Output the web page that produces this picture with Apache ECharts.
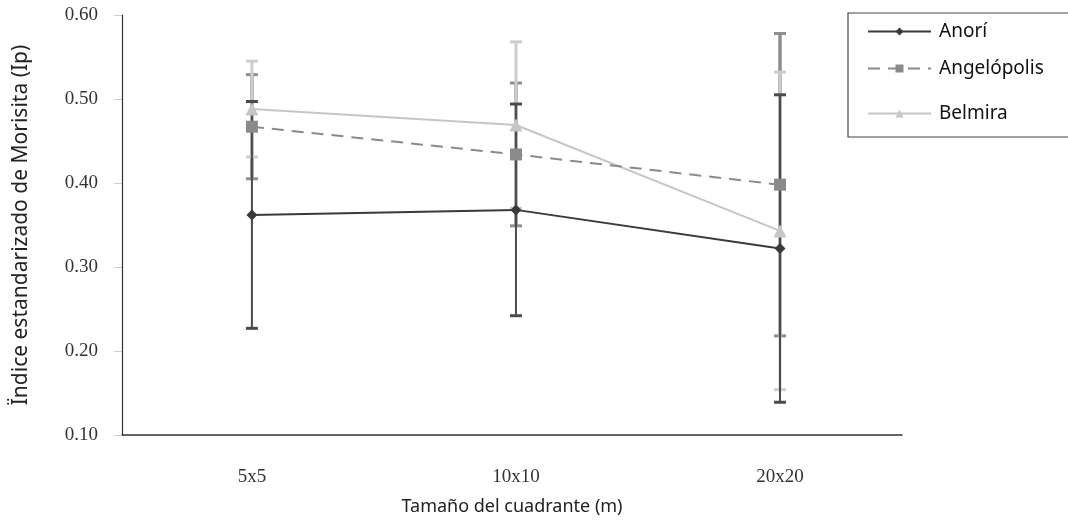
<!DOCTYPE html>
<html>
<head>
<meta charset="utf-8">
<script src="https://cdn.jsdelivr.net/npm/echarts@6/dist/echarts.min.js"></script>
<style>
  html, body { margin: 0; padding: 0; background: #fff; }
  #main { width: 1068px; height: 525px; }
</style>
</head>
<body>
<div id="main"></div>
<script>
var sizes = ['5x5', '10x10', '20x20'];
var yTicks = [0.10, 0.20, 0.30, 0.40, 0.50, 0.60];

// medias y error (barras) por localidad
var anoriMean = [0.362, 0.368, 0.322];
var anoriErr = [0.135, 0.126, 0.183];
var angelMean = [0.467, 0.434, 0.398];
var angelErr = [0.062, 0.085, 0.180];
var belmiraMean = [0.488, 0.469, 0.343];
var belmiraErr = [0.057, 0.099, 0.189];

var serif = '"Liberation Serif", "Times New Roman", serif';
var sans = '"Noto Sans", "DejaVu Sans", sans-serif';

function pts(mean) {
    return mean.map(function (v, i) { return [i, v]; });
}
function bars(mean, err) {
    return mean.map(function (v, i) { return [i, v - err[i], v + err[i]]; });
}
function errRender(color, width) {
    return function (params, api) {
        var x = api.value(0);
        var lo = api.coord([x, api.value(1)]);
        var hi = api.coord([x, api.value(2)]);
        var c = 6;
        var st = { stroke: color, lineWidth: width };
        return {
            type: 'group',
            children: [
                { type: 'line', shape: { x1: hi[0], y1: hi[1], x2: lo[0], y2: lo[1] }, style: st },
                { type: 'line', shape: { x1: hi[0] - c, y1: hi[1], x2: hi[0] + c, y2: hi[1] }, style: { stroke: color, lineWidth: 3 } },
                { type: 'line', shape: { x1: lo[0] - c, y1: lo[1], x2: lo[0] + c, y2: lo[1] }, style: { stroke: color, lineWidth: 3 } }
            ]
        };
    };
}

var myChart = echarts.init(document.getElementById('main'));

var legendBase = {
    left: 867,
    padding: 0,
    itemWidth: 63,
    itemHeight: 10,
    textStyle: { fontFamily: sans, fontSize: 19, color: '#111', padding: [0, 0, 0, 3] }
};

var option = {
    animation: false,
    backgroundColor: '#fff',
    grid: { left: 122, right: 166, top: 15, bottom: 90 },
    legend: [
        Object.assign({ top: 22, data: ['Anorí'] }, legendBase),
        Object.assign({ top: 59, data: ['Angelópolis'] }, legendBase),
        Object.assign({ top: 104, data: ['Belmira'] }, legendBase)
    ],
    graphic: [{
        type: 'rect',
        shape: { x: 848, y: 13, width: 240, height: 124 },
        style: { fill: 'none', stroke: '#444', lineWidth: 1.2 },
        z: 100
    }],
    xAxis: {
        type: 'value',
        min: -0.492,
        max: 2.462,
        name: 'Tamaño del cuadrante (m)',
        nameLocation: 'middle',
        nameGap: 63,
        nameTextStyle: { fontFamily: sans, fontSize: 18, color: '#222' },
        splitLine: { show: false },
        axisTick: { show: false },
        axisLine: { lineStyle: { color: '#333', width: 1.5 } },
        axisLabel: {
            customValues: [0, 1, 2],
            margin: 33,
            fontFamily: serif,
            fontSize: 19,
            color: '#333',
            formatter: function (v) { return sizes[Math.round(v)]; }
        }
    },
    yAxis: {
        type: 'value',
        min: 0.1,
        max: 0.6,
        interval: 0.1,
        name: 'Ïndice estandarizado de Morisita (Ip)',
        nameLocation: 'middle',
        nameGap: 90,
        nameTextStyle: { fontFamily: sans, fontSize: 21, color: '#222' },
        splitLine: { show: false },
        axisLine: { show: true, onZero: false, lineStyle: { color: '#333', width: 1.2 } },
        axisTick: { show: true, length: 8, lineStyle: { color: '#ccc' } },
        axisLabel: {
            customValues: yTicks,
            margin: 24,
            fontFamily: serif,
            fontSize: 19,
            color: '#333',
            formatter: function (v) { return v.toFixed(2); }
        }
    },
    series: [
        {
            type: 'custom', name: 'errAngel', renderItem: errRender('#8e8e8e', 3.5),
            data: bars(angelMean, angelErr), encode: { x: 0, y: [1, 2] }, z: 1, silent: true
        },
        {
            type: 'custom', name: 'errBelmira', renderItem: errRender('#cdcdcd', 3),
            data: bars(belmiraMean, belmiraErr), encode: { x: 0, y: [1, 2] }, z: 1, silent: true
        },
        {
            type: 'custom', name: 'errAnori', renderItem: errRender('#4a4a4a', 2),
            data: bars(anoriMean, anoriErr), encode: { x: 0, y: [1, 2] }, z: 1, silent: true
        },
        {
            name: 'Anorí',
            type: 'line',
            data: pts(anoriMean),
            symbol: 'diamond',
            symbolSize: 11,
            lineStyle: { color: '#3a3a3a', width: 2 },
            itemStyle: { color: '#3a3a3a' },
            z: 5
        },
        {
            name: 'Angelópolis',
            type: 'line',
            data: pts(angelMean),
            symbol: 'rect',
            symbolSize: 12,
            lineStyle: { color: '#8a8a8a', width: 2, type: [12, 8] },
            itemStyle: { color: '#8a8a8a' },
            z: 4
        },
        {
            name: 'Belmira',
            type: 'line',
            data: pts(belmiraMean),
            symbol: 'triangle',
            symbolSize: 13,
            lineStyle: { color: '#c6c6c6', width: 2 },
            itemStyle: { color: '#c6c6c6' },
            z: 3
        }
    ]
};

myChart.setOption(option);
</script>
</body>
</html>
